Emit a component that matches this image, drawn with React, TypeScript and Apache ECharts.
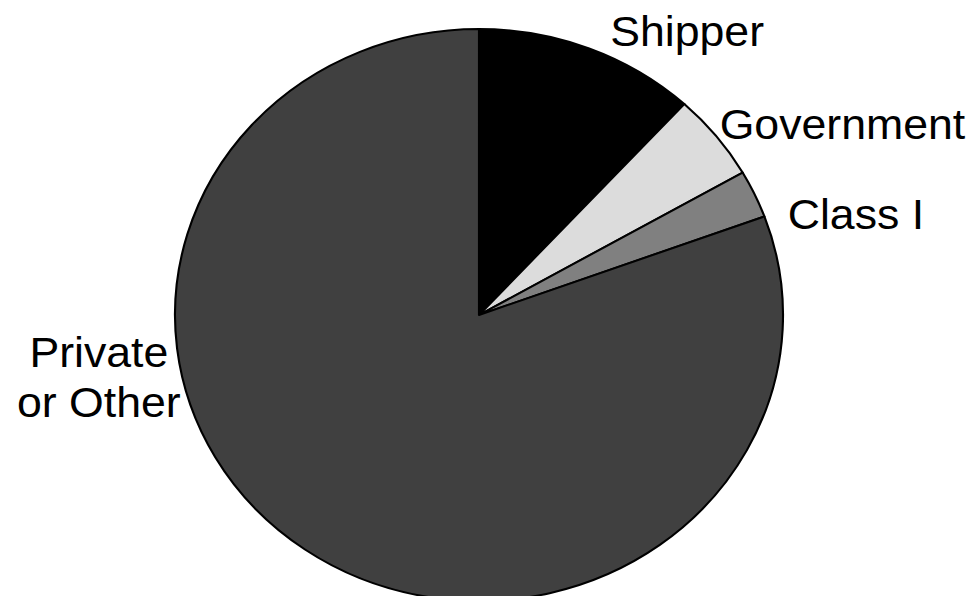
import React, { useEffect, useRef } from "react";
import * as echarts from "echarts";

const categories = ["Shipper", "Government", "Class I", "Private\nor Other"];
const values = [11.8, 4.9, 2.7, 80.6];
const colors = ["#000000", "#dcdcdc", "#808080", "#404040"];

// label anchor positions (unscaled chart frame), vertical middle
const labelAnchors: [number, number, string][] = [
  [574, 31, "left"],
  [677, 124, "left"],
  [741, 214, "left"],
  [93, 377, "center"],
];

const STRETCH = 1.063;
const W = 975 / STRETCH;
const H = 596;

export default function App() {
  const ref = useRef<HTMLDivElement>(null);
  useEffect(() => {
    if (!ref.current) return;
    const chart = echarts.init(ref.current, undefined, { renderer: "svg" });
    chart.setOption({
      animation: false,
      backgroundColor: "#ffffff",
      series: [
        {
          type: "pie",
          center: [479 / STRETCH, 315],
          radius: 286,
          startAngle: 90,
          clockwise: true,
          avoidLabelOverlap: false,
          itemStyle: { borderColor: "#000000", borderWidth: 2 },
          label: {
            show: true,
            formatter: "{b}",
            fontSize: 42,
            lineHeight: 50,
            color: "#000000",
            fontFamily: "Liberation Sans, Arial, sans-serif",
          },
          labelLine: { show: false },
          labelLayout: (params: any) => {
            const p = labelAnchors[params.dataIndex];
            return { x: p[0], y: p[1], align: p[2], verticalAlign: "middle" };
          },
          emphasis: { disabled: true },
          data: categories.map((c, i) => ({
            name: c,
            value: values[i],
            itemStyle: { color: colors[i] },
          })),
        },
      ],
    });
    return () => chart.dispose();
  }, []);
  return (
    <div
      style={{
        position: "fixed",
        left: 0,
        top: 0,
        width: 975,
        height: H,
        overflow: "hidden",
        background: "#fff",
      }}
    >
      <div
        ref={ref}
        style={{
          width: W,
          height: H,
          transform: `scaleX(${STRETCH})`,
          transformOrigin: "0 0",
        }}
      />
    </div>
  );
}
